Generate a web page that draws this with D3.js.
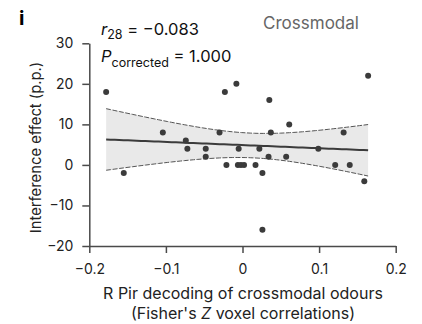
<!DOCTYPE html>
<html>
<head>
<meta charset="utf-8">
<script src="https://cdn.jsdelivr.net/npm/d3@7"></script>
<style>
  html, body { margin: 0; padding: 0; background: #fff; }
  svg { display: block; font-family: Inter, "Open Sans", sans-serif; }
</style>
</head>
<body>
<svg id="chart" width="422" height="324"></svg>
<script>
// Per-participant decoding (Fisher's Z) and interference effect (p.p.)
const decoding = [
  -0.178, -0.155, -0.104, -0.074, -0.072, -0.048, -0.048, -0.030, -0.023, -0.021,
  -0.008, -0.006, -0.002, 0.002, -0.005, 0.035, 0.061, 0.037, 0.022, 0.034,
  0.057, 0.017, 0.026, 0.026, 0.164, 0.132, 0.099, 0.121, 0.140, 0.159
];
const interference = [
  18, -2, 8, 6, 4, 4, 2, 8, 18, 0,
  20, 0, 0, 0, 4, 16, 10, 8, 4, 2,
  2, 0, -2, -16, 22, 8, 4, 0, 0, -4
];
const xTicks = [-0.2, -0.1, 0, 0.1, 0.2];
const yTicks = [-20, -10, 0, 10, 20, 30];
const statR = "\u22120.083";
const statP = "1.000";

const svg = d3.select("#chart");
const x = d3.scaleLinear().domain([-0.2, 0.2]).range([89.3, 395.7]);
const y = d3.scaleLinear().domain([-20, 30]).range([246, 43.3]);

const axisColor = "#4a4a4a";
const markColor = "#3b3b3b";

// Least-squares fit with 95% confidence band of the mean
const n = decoding.length;
const mx = d3.mean(decoding), my = d3.mean(interference);
let sxx = 0, sxy = 0;
for (let i = 0; i < n; i++) {
  sxx += (decoding[i] - mx) ** 2;
  sxy += (decoding[i] - mx) * (interference[i] - my);
}
const slope = sxy / sxx, icpt = my - slope * mx;
let sse = 0;
for (let i = 0; i < n; i++) sse += (interference[i] - (icpt + slope * decoding[i])) ** 2;
const s = Math.sqrt(sse / (n - 2));
const tCrit = 2.048; // t(0.975, df = 28)
const [x0, x1] = d3.extent(decoding);
const grid = d3.range(0, 61).map(k => x0 + (x1 - x0) * k / 60);
const band = grid.map(v => {
  const fit = icpt + slope * v;
  const h = tCrit * s * Math.sqrt(1 / n + (v - mx) ** 2 / sxx);
  return { v, fit, lo: fit - h, hi: fit + h };
});

svg.append("path")
  .datum(band)
  .attr("fill", "#e9e9e9")
  .attr("d", d3.area().x(d => x(d.v)).y0(d => y(d.lo)).y1(d => y(d.hi)));

["lo", "hi"].forEach(k => {
  svg.append("path")
    .datum(band)
    .attr("fill", "none")
    .attr("stroke", "#555")
    .attr("stroke-width", 1)
    .attr("stroke-dasharray", "5,1.5")
    .attr("d", d3.line().x(d => x(d.v)).y(d => y(d[k])));
});

svg.append("path")
  .datum(band)
  .attr("fill", "none")
  .attr("stroke", markColor)
  .attr("stroke-width", 2)
  .attr("d", d3.line().x(d => x(d.v)).y(d => y(d.fit)));

// Points
svg.append("g")
  .selectAll("circle")
  .data(decoding.map((d, i) => [d, interference[i]]))
  .join("circle")
  .attr("cx", d => x(d[0]))
  .attr("cy", d => y(d[1]))
  .attr("r", 3)
  .attr("fill", markColor);

// Axes
const fmtX = d => d === 0 ? "0" : d3.format(".1f")(d).replace("-", "\u2212");
const fmtY = d => String(d).replace("-", "\u2212");

const gx = svg.append("g")
  .attr("transform", `translate(0,${y(-20)})`)
  .call(d3.axisBottom(x).tickValues(xTicks).tickFormat(fmtX).tickSize(7).tickSizeOuter(0));
const gy = svg.append("g")
  .attr("transform", `translate(${x(-0.2)},0)`)
  .call(d3.axisLeft(y).tickValues(yTicks).tickFormat(fmtY).tickSize(7).tickSizeOuter(0));

[gx, gy].forEach(g => {
  g.select(".domain").attr("stroke", axisColor).attr("stroke-width", 1.5);
  g.selectAll(".tick line").attr("stroke", axisColor).attr("stroke-width", 1.5);
  g.selectAll(".tick text")
    .attr("fill", "#222")
    .style("font-family", "Inter, sans-serif")
    .style("font-size", "14px");
});
gx.selectAll(".tick text").attr("y", 28).attr("dy", 0);
gy.selectAll(".tick text").attr("x", -16);

// Axis titles
svg.append("text")
  .attr("transform", `translate(40.5,${(49 + 246) / 2}) rotate(-90)`)
  .attr("text-anchor", "middle")
  .attr("fill", "#222")
  .style("font-size", "14.8px")
  .text("Interference effect (p.p.)");

const xt1 = svg.append("text")
  .attr("x", 243).attr("y", 298.5)
  .attr("text-anchor", "middle")
  .attr("fill", "#222")
  .style("font-size", "16px")
  .text("R Pir decoding of crossmodal odours");
const xt2 = svg.append("text")
  .attr("x", 243).attr("y", 318.5)
  .attr("text-anchor", "middle")
  .attr("fill", "#222")
  .style("font-size", "16px");
xt2.append("tspan").text("(Fisher's ");
xt2.append("tspan").style("font-style", "italic").text("Z");
xt2.append("tspan").text(" voxel correlations)");

// Panel letter and condition name
svg.append("text")
  .attr("x", 19).attr("y", 25)
  .attr("fill", "#000")
  .style("font-size", "20px")
  .style("font-weight", "700")
  .text("i");

svg.append("text")
  .attr("x", 311).attr("y", 29)
  .attr("text-anchor", "middle")
  .attr("fill", "#666")
  .style("font-size", "17px")
  .text("Crossmodal");

// Statistics
const rT = svg.append("text").attr("x", 101).attr("y", 34.5).attr("fill", "#111").style("font-size", "16.5px");
rT.append("tspan").style("font-style", "italic").text("r");
rT.append("tspan").attr("dy", 4).style("font-size", "12.5px").text("28");
rT.append("tspan").attr("dy", -4).text(" = " + statR);

const pT = svg.append("text").attr("x", 101).attr("y", 62).attr("fill", "#111").style("font-size", "16.5px");
pT.append("tspan").style("font-style", "italic").text("P");
pT.append("tspan").attr("dy", 5).style("font-size", "12.5px").text("corrected");
pT.append("tspan").attr("dy", -5).text(" = " + statP);
</script>
</body>
</html>
